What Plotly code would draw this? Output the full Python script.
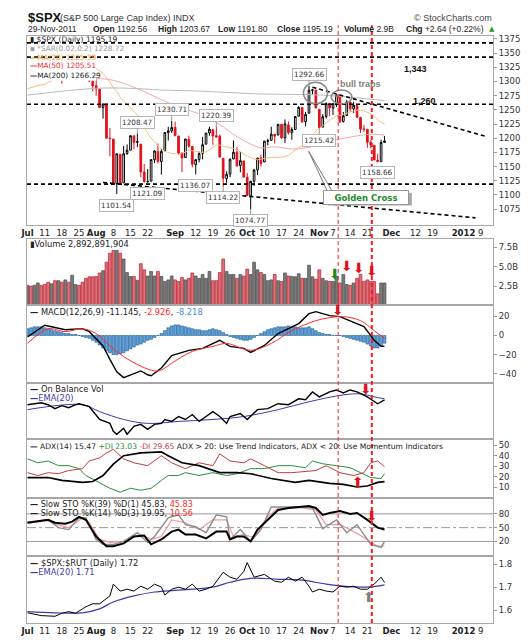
import pandas as pd
import plotly.graph_objects as go

FONT = "DejaVu Sans"
W, H = 529, 640
L, R, T, B = 14, 44, 28, 15          # plot area edges in page pixels
PW, PH = W - L - R, H - T - B


def fx(px):
    return (px - L) / PW


def fy(py):
    return (H - B - py) / PH


# trading sessions (weekends and exchange holidays dropped)
holidays = ["2011-07-04", "2011-09-05", "2011-11-24", "2011-12-26"]
sessions = pd.bdate_range("2011-07-01", "2012-01-31", freq="C", holidays=holidays)


def sess(d):
    return sessions.get_loc(pd.Timestamp(d))


tick_dates = ["2011-07-01", "2011-07-11", "2011-07-18", "2011-07-25", "2011-08-01", "2011-08-08",
              "2011-08-15", "2011-08-22", "2011-09-01", "2011-09-12", "2011-09-19", "2011-09-26",
              "2011-10-03", "2011-10-10", "2011-10-17", "2011-10-24", "2011-11-01", "2011-11-07",
              "2011-11-14", "2011-11-21", "2011-12-01", "2011-12-12", "2011-12-19", "2012-01-02",
              "2012-01-09"]
tick_text = ["<b>Jul</b>", "11", "18", "25", "<b>Aug</b>", "8", "15", "22", "<b>Sep</b>", "12", "19",
             "26", "<b>Oct</b>", "10", "17", "24", "<b>Nov</b>", "7", "14", "21", "<b>Dec</b>", "12",
             "19", "<b>2012</b>", "9"]
tick_pos = [sess(d) for d in tick_dates]

# ---- daily $SPX data, 1 Jul - 29 Nov 2011 ----
prev_close = 1320.64
opens = [1320.64, 1339.59, 1337.56, 1339.62, 1352.39, 1343.31, 1319.61, 1314.45, 1317.74, 1308.87,
         1315.94, 1307.07, 1328.66, 1325.65, 1343.80, 1344.32, 1337.39, 1331.91, 1304.84, 1300.12,
         1292.59, 1286.56, 1254.25, 1260.23, 1200.28, 1198.48, 1120.23, 1171.77, 1121.30, 1172.87,
         1178.86, 1204.22, 1192.89, 1189.62, 1140.47, 1123.55, 1124.36, 1162.16, 1176.69, 1158.85,
         1177.91, 1209.76, 1213.00,
         1219.12, 1203.90, 1173.97, 1165.85, 1197.98, 1185.37, 1153.50, 1162.59, 1173.32, 1189.44,
         1209.21, 1214.99, 1204.50, 1203.63, 1164.55, 1128.82, 1136.91, 1163.32, 1175.39, 1151.74,
         1159.93,
         1131.21, 1097.42, 1124.03, 1144.11, 1165.03, 1158.15, 1194.60, 1196.19, 1206.96, 1205.65,
         1224.47, 1200.75, 1223.46, 1209.92, 1215.39, 1238.72, 1254.19, 1229.17, 1243.97, 1284.39,
         1284.96,
         1251.00, 1219.62, 1238.25, 1260.82, 1253.21, 1261.12, 1275.18, 1229.59, 1240.12, 1263.85,
         1251.70, 1257.81, 1236.56, 1216.19, 1215.62, 1192.98, 1187.48, 1161.41, 1158.67, 1192.56]
highs = [1341.01, 1340.89, 1340.94, 1356.48, 1352.39, 1343.31, 1327.17, 1331.48, 1326.88, 1317.70,
         1315.94, 1328.14, 1330.43, 1347.00, 1346.10, 1344.32, 1338.51, 1331.91, 1316.32, 1304.16,
         1307.38, 1286.58, 1261.20, 1260.23, 1218.11, 1198.48, 1172.88, 1171.77, 1186.29, 1189.04,
         1204.49, 1204.22, 1208.47, 1189.62, 1154.54, 1145.49, 1162.35, 1178.56, 1190.68, 1181.23,
         1210.28, 1220.10, 1230.71,
         1229.29, 1203.90, 1173.97, 1198.62, 1204.40, 1185.37, 1162.52, 1176.41, 1202.38, 1209.11,
         1220.06, 1214.99, 1220.39, 1206.30, 1164.55, 1141.72, 1164.19, 1195.86, 1184.71, 1175.87,
         1159.93,
         1138.99, 1125.12, 1146.07, 1165.55, 1171.40, 1194.91, 1199.24, 1220.25, 1207.46, 1224.61,
         1224.47, 1233.10, 1229.64, 1219.36, 1239.03, 1256.55, 1254.19, 1246.28, 1292.66, 1287.08,
         1284.96,
         1251.00, 1242.48, 1263.21, 1260.82, 1261.70, 1277.55, 1275.18, 1246.22, 1266.98, 1263.85,
         1264.25, 1259.61, 1237.73, 1223.51, 1215.62, 1196.81, 1187.48, 1172.66, 1197.35, 1203.67]
lows = [1318.18, 1330.92, 1330.92, 1339.62, 1333.71, 1316.42, 1313.33, 1314.45, 1306.51, 1307.17,
        1295.92, 1307.07, 1323.65, 1325.65, 1336.95, 1331.09, 1329.59, 1303.49, 1299.16, 1282.86,
        1274.73, 1254.03, 1234.56, 1199.54, 1168.09, 1119.28, 1101.54, 1118.01, 1121.30, 1170.74,
        1178.86, 1180.53, 1184.36, 1131.03, 1122.05, 1121.09, 1124.36, 1156.30, 1155.47, 1135.91,
        1177.91, 1195.77, 1209.35,
        1203.85, 1170.56, 1140.13, 1165.85, 1183.34, 1148.37, 1136.07, 1157.44, 1162.73, 1189.44,
        1204.46, 1188.36, 1201.29, 1166.21, 1114.22, 1121.36, 1131.07, 1163.32, 1150.40, 1139.93,
        1131.34,
        1098.92, 1074.77, 1115.68, 1134.95, 1150.26, 1158.15, 1187.30, 1196.19, 1190.58, 1205.65,
        1198.55, 1191.48, 1206.31, 1197.34, 1215.39, 1238.72, 1226.79, 1221.06, 1243.97, 1277.01,
        1253.16,
        1215.42, 1219.62, 1234.81, 1238.92, 1240.75, 1254.99, 1226.64, 1227.70, 1240.12, 1246.68,
        1244.34, 1235.67, 1209.43, 1211.36, 1183.16, 1181.65, 1161.79, 1158.66, 1158.67, 1191.80]
closes = [1339.67, 1337.88, 1339.22, 1353.22, 1343.80, 1319.49, 1313.64, 1317.72, 1308.87, 1316.14,
          1305.44, 1326.73, 1325.84, 1343.80, 1345.02, 1337.43, 1331.94, 1304.89, 1300.67, 1292.28,
          1286.94, 1254.05, 1260.34, 1200.07, 1199.38, 1119.46, 1172.53, 1120.76, 1172.64, 1178.81,
          1204.49, 1192.76, 1193.89, 1140.65, 1123.53, 1123.82, 1162.35, 1177.60, 1159.27, 1176.80,
          1210.08, 1212.92, 1218.89,
          1204.42, 1173.97, 1165.24, 1198.62, 1185.90, 1154.23, 1162.27, 1172.87, 1188.68, 1209.11,
          1216.01, 1204.09, 1202.09, 1166.76, 1129.56, 1136.43, 1162.95, 1175.38, 1151.06, 1160.40,
          1131.42,
          1099.23, 1123.95, 1144.03, 1164.97, 1155.46, 1194.89, 1195.54, 1207.25, 1203.66, 1224.58,
          1200.86, 1225.38, 1209.88, 1215.39, 1238.25, 1254.19, 1229.05, 1242.00, 1284.59, 1285.09,
          1253.30,
          1218.28, 1237.90, 1261.15, 1253.23, 1261.12, 1275.92, 1229.10, 1239.69, 1263.85, 1251.78,
          1257.81, 1236.91, 1216.13, 1215.65, 1192.98, 1188.04, 1161.79, 1158.67, 1192.55, 1195.19]
volume_bn = [2.6, 2.5, 2.6, 2.9, 2.6, 2.7, 3.0, 2.8, 3.2, 3.2, 3.0, 3.3, 3.0,
             3.9, 2.7, 2.6, 3.0, 3.5, 3.7, 3.7, 3.75,
             4.2, 4.5, 5.6, 6.75, 7.1, 7.1, 6.75, 6.0,
             4.25, 3.75, 3.75, 3.25, 5.4, 4.6, 3.8, 4.4, 3.8, 4.4, 3.75, 3.1, 3.3, 3.8, 3.3, 3.1,
             3.6, 3.3, 3.5, 4.2, 3.8, 3.5,
             4.0, 3.5, 4.4, 3.2, 3.2, 4.25, 6.0,
             4.4, 4.0, 4.0, 3.5, 4.0, 3.8, 4.7, 4.0, 5.6, 4.6, 4.25, 4.0, 3.2, 3.3, 4.0, 3.2, 3.1,
             4.2, 3.8, 3.75, 3.7, 4.1, 3.5, 3.5, 5.2,
             3.7, 3.4, 4.6, 3.5, 3.2, 3.1, 3.1, 3.75, 2.9, 4.0, 2.7, 2.6, 2.9, 3.5, 4.0, 3.1, 3.3,
             3.1, 3.1, 1.5, 2.9, 2.9]
days = list(range(len(closes)))

# moving averages on price
ma20 = [1287, 1289, 1291, 1293, 1294, 1295, 1298, 1301, 1305, 1308, 1311, 1314, 1317, 1319, 1321,
        1323, 1324, 1325, 1325, 1324,
        1322.5, 1318.3, 1314.4, 1306.4, 1299.2, 1289.2, 1282.5, 1272.6, 1265.8, 1259.0,
        1254.0, 1247.3, 1240.7, 1230.5, 1219.4, 1208.7, 1200.2, 1193.8, 1186.7, 1180.9,
        1177.1, 1175.0, 1172.9, 1173.1, 1171.8, 1174.1, 1175.4, 1178.7, 1177.8, 1177.0,
        1175.4, 1175.2, 1176.0, 1179.7, 1183.8, 1187.7, 1187.9, 1185.5, 1184.4, 1183.7,
        1181.9, 1178.8, 1175.9, 1172.3, 1168.5, 1166.5, 1163.7, 1162.7, 1162.8, 1164.4,
        1165.5, 1166.5, 1166.2, 1166.6, 1166.5, 1167.6, 1169.8, 1174.1, 1179.2, 1183.8,
        1186.4, 1191.0, 1197.2, 1204.9, 1212.6, 1217.3, 1222.0, 1226.8, 1231.7, 1235.0,
        1239.0, 1240.1, 1241.9, 1243.9, 1246.4, 1248.0, 1249.4, 1249.4, 1248.3, 1245.2,
        1243.2, 1239.2, 1232.9, 1228.3, 1225.4]
ma50_day = [0, 10, 20, 25, 31, 39, 44, 50, 56, 61, 68, 72, 77, 82, 87, 94, 100, 104]
ma50_val = [1318, 1316, 1306, 1302, 1290, 1268, 1255, 1243, 1224, 1203, 1183, 1185, 1181, 1184,
            1193, 1202, 1207, 1205.5]
ma200_day = [0, 20, 30, 39, 50, 68, 86, 104]
ma200_val = [1276, 1288, 1288, 1285, 1283, 1278, 1276, 1266.3]

# MACD(12,26,9)
macd_day = [0, 5, 11, 16, 18, 22, 24, 26, 28, 31, 33, 35, 36, 39, 42, 47, 51, 56, 59, 63, 65, 69,
            73, 79, 82, 84, 88, 91, 94, 98, 101, 103, 104]
macd_val = [-1.4, 10.7, 6, 7.2, 4, -11, -25, -38, -44, -40, -37, -41, -42, -34, -21, -15.5, -13.5,
            -5, -11.4, -13.5, -17.6, -10.4, 2, 12.4, 22.8, 24.9, 20.7, 19.7, 15.5, 9.3, -5, -11.4,
            -11.1]
signal_day = [0, 6, 11, 16, 20, 24, 28, 33, 37, 39, 42, 48, 54, 58, 65, 71, 77, 84, 88, 92, 97,
              101, 104]
signal_val = [-8.3, 7, 4, 7, 2, -11, -22, -32, -37, -36, -29, -16.6, -11.4, -8.3, -15.5, -8.3, 5,
              15.5, 18.6, 19.7, 15.5, 5, -2.9]
macd_hist = [7, 8, 9, 9, 9, 8, 7, 6, 5,
             4, 3, 2, 2, 1, 1, 0,
             -1, -2, -3, -5, -7,
             -10, -13, -16, -18, -20, -20, -19, -18, -16, -14,
             -12, -10, -9, -7, -5, -4, -2, 0,
             2, 5, 8, 10, 11, 11, 10, 9, 8, 7,
             6, 6, 5, 5, 6, 7, 6,
             5, 3, 1, -1, -2, -3, -4, -5,
             -5, -4, -2, 0, 2, 4, 6,
             7, 8, 9, 9, 9, 10, 9, 9, 8, 8,
             8, 9, 7, 5, 3,
             2, 1, 1, 0, 0, 0, -1,
             -2, -3, -4, -5, -6, -7, -9, -11, -13, -13, -11, -8]

# On Balance Volume (no scale shown on the chart)
obv_day = [0, 4, 6, 8, 10, 12, 14, 15, 18, 21, 24, 25, 26, 28, 29, 31, 33, 35, 37, 39, 40, 42, 44,
           46, 48, 50, 52, 54, 56, 58, 59, 62, 64, 67, 70, 73, 76, 79, 81, 83, 85, 88, 90, 92, 94,
           96, 99, 102, 104]
obv_val = [35, 37, 35, 31, 34, 32, 35, 36, 33, 20, 16, 8, 5, 11, 5, 13, 15, 10, 15, 16, 20, 18, 23,
           20, 25, 18, 23, 28, 23, 16, 23, 26, 20, 30, 31, 36, 35, 41, 40, 48, 43, 48, 50, 47, 50,
           48, 43, 36, 40]
obv_ema_day = [0, 16, 21, 28, 35, 44, 54, 63, 73, 82, 92, 97, 101, 104]
obv_ema_val = [30, 35, 28, 20, 16, 18, 20, 23, 30, 38, 45, 46, 43, 41]

# ADX(14)
adx_day = [0, 6, 10, 16, 19, 22, 25, 28, 33, 37, 39, 41, 45, 50, 56, 61, 65, 71, 78, 82, 88, 92,
           96, 99, 102, 104]
adx_val = [19.4, 19.4, 16.7, 14.8, 15.7, 21.3, 32, 40, 42.6, 43.5, 43.5, 40, 33.3, 30.6, 24, 24,
           23, 18.5, 14.8, 16.7, 13.9, 13, 10.5, 11.4, 14.8, 15.47]
pdi_day = [0, 3, 6, 9, 12, 15, 17, 21, 24, 27, 30, 33, 36, 39, 41, 44, 46, 50, 54, 58, 61, 65, 69,
           73, 77, 81, 83, 86, 90, 94, 97, 100, 103, 104]
pdi_val = [37, 33.3, 35, 30.6, 30.6, 27.8, 21.3, 14.8, 9.3, 5.6, 9.3, 7.4, 9.3, 16.7, 21.3, 21.3,
           24, 21.3, 24, 21.3, 23, 27.8, 27.8, 30.6, 30.6, 28.7, 35, 32.4, 30.6, 28.7, 24, 19.4,
           18.5, 23.03]
mdi_day = [0, 3, 6, 9, 12, 16, 18, 21, 23, 25, 28, 31, 35, 39, 42, 46, 50, 54, 56, 59, 63, 65, 69,
           73, 77, 81, 84, 87, 91, 95, 98, 100, 102, 104]
mdi_val = [24, 21.3, 24, 23, 26, 27.8, 35, 38, 42.6, 46, 37, 33.3, 30.6, 40, 33.3, 27.8, 33.3,
           30.6, 41.7, 35, 33.3, 37, 30.6, 24, 24, 25, 26, 30.6, 24, 21.3, 24, 33.3, 35, 29.65]

# Slow stochastics
sto39_day = [0, 6, 8, 11, 13, 15, 17, 20, 23, 25, 28, 31, 34, 36, 39, 42, 44, 46, 49, 52, 55, 58,
             59, 61, 63, 65, 67, 70, 73, 76, 79, 82, 84, 86, 88, 91, 94, 96, 99, 102, 104]
sto39_val = [60.7, 67, 60.7, 58.5, 63, 73.5, 67, 30.7, 9.3, 9.3, 15.6, 30.7, 32.8, 13.6, 24.3,
             41.4, 45.7, 35, 35, 26.4, 41.4, 41.4, 24.3, 30.7, 30.7, 20, 45.7, 67, 88.6, 92.8, 95,
             97, 92.8, 77.8, 82, 86.4, 80, 82, 67, 50, 45.83]
sto14k_day = [0, 6, 9, 12, 15, 17, 20, 22, 25, 28, 32, 35, 37, 41, 44, 46, 49, 52, 55, 58, 59, 62,
              65, 68, 71, 75, 80, 83, 86, 90, 93, 96, 100, 103, 104]
sto14k_val = [62, 67, 50, 45.7, 71.4, 71.4, 24.3, 13.6, 13.6, 20, 39, 17.8, 30.7, 71.4, 77.8, 56.4,
              52, 39, 77.8, 73.5, 24.3, 45.7, 20, 45.7, 95, 95, 95, 92.8, 47.8, 67, 39, 56.4, 13.6,
              7.1, 19.95]
sto14d_day = [0, 6, 9, 12, 16, 18, 21, 24, 28, 33, 36, 39, 42, 46, 50, 54, 58, 60, 63, 66, 70, 73,
              80, 84, 87, 91, 94, 98, 102, 104]
sto14d_val = [60, 65, 56, 50, 71, 60.7, 24.3, 17.8, 20, 35, 24.3, 30.7, 67, 60.7, 45.7, 67, 67,
              30.7, 35, 28.5, 73.5, 92.8, 92.8, 88.6, 56.4, 56.4, 45.7, 28.5, 9.3, 10.56]

# $SPX:$RUT ratio
ratio_day = [0, 4, 8, 10, 12, 14, 16, 17, 19, 21, 24, 25, 27, 29, 31, 33, 35, 37, 39, 40, 42, 44,
             46, 48, 50, 52, 54, 57, 59, 61, 63, 64, 66, 69, 72, 74, 76, 78, 80, 82, 83, 85, 87,
             89, 91, 93, 95, 97, 99, 101, 103, 104]
ratio_val = [1.589, 1.577, 1.574, 1.587, 1.594, 1.587, 1.606, 1.615, 1.628, 1.628, 1.662, 1.713,
             1.683, 1.691, 1.683, 1.704, 1.691, 1.713, 1.700, 1.666, 1.691, 1.700, 1.691, 1.713,
             1.683, 1.691, 1.704, 1.764, 1.743, 1.734, 1.768, 1.806, 1.743, 1.755, 1.726, 1.721,
             1.743, 1.726, 1.743, 1.704, 1.679, 1.691, 1.683, 1.679, 1.704, 1.700, 1.704, 1.691,
             1.691, 1.713, 1.743, 1.720]
ratio_ema_day = [0, 8, 16, 21, 25, 31, 37, 44, 54, 59, 65, 73, 80, 87, 92, 98, 102, 104]
ratio_ema_val = [1.594, 1.589, 1.589, 1.606, 1.636, 1.662, 1.679, 1.687, 1.700, 1.721, 1.738,
                 1.734, 1.730, 1.713, 1.704, 1.700, 1.704, 1.710]

# chart notes
peak_days = [82, 42, 32, 55]
trough_days = [49, 57, 35, 26, 65, 85, 102]
hlines = [1368, 1343, 1260, 1119]
trend_days = [[22, 130.5], [83, 133.4]]
trend_prices = [[1122, 1059.6], [1290, 1203.4]]
event_days = [90.5, 100.3]

# ---------------------------------------------------------------
panels_px = [(28, 220), (234, 302), (302, 381), (381, 438), (438, 498), (498, 557), (557, 625)]
yranges = [[1047.4, 1380.2], [0, 8.65], [-49.7, 31.4], [0, 57], [0, 55.6], [-12.1, 114.3],
           [1.545, 1.834]]

fig = go.Figure()
RED = "#e0101c"

prevs = [prev_close] + closes[:-1]
up = [d for d in days if closes[d] >= prevs[d]]
dn = [d for d in days if closes[d] < prevs[d]]
for sel, col in ((up, "#000000"), (dn, RED)):
    fig.add_trace(go.Candlestick(
        x=sel, open=[opens[d] for d in sel], high=[highs[d] for d in sel],
        low=[lows[d] for d in sel], close=[closes[d] for d in sel],
        increasing=dict(line=dict(color=col, width=1), fillcolor="white"),
        decreasing=dict(line=dict(color=col, width=1), fillcolor=col),
        whiskerwidth=0, xaxis="x", yaxis="y", hoverinfo="skip"))

for xs, ys, col in ((days, ma20, "#f2bd82"), (ma50_day, ma50_val, "#f5a7a7"),
                    (ma200_day, ma200_val, "#b9b9b9")):
    fig.add_trace(go.Scatter(x=xs, y=ys, mode="lines", line=dict(color=col, width=1, shape="spline"),
                             xaxis="x", yaxis="y", hoverinfo="skip"))

vcol = ["#7a7a7a" if closes[d] >= prevs[d] else "#d5737b" for d in days]
vline = ["#4a4a4a" if closes[d] >= prevs[d] else "#c41a2a" for d in days]
fig.add_trace(go.Bar(x=days, y=volume_bn, width=0.82, marker=dict(color=vcol, line=dict(color=vline, width=0.7)),
                     xaxis="x2", yaxis="y2", hoverinfo="skip"))

fig.add_trace(go.Bar(x=days, y=macd_hist, width=0.8,
                     marker=dict(color="#62a3d9", line=dict(color="#1d5a96", width=0.6)),
                     xaxis="x3", yaxis="y3", hoverinfo="skip"))
fig.add_trace(go.Scatter(x=macd_day, y=macd_val, mode="lines", line=dict(color="black", width=1.4),
                         xaxis="x3", yaxis="y3", hoverinfo="skip"))
fig.add_trace(go.Scatter(x=signal_day, y=signal_val, mode="lines", line=dict(color="#ff2a2a", width=1, shape="spline"),
                         xaxis="x3", yaxis="y3", hoverinfo="skip"))

fig.add_trace(go.Scatter(x=obv_ema_day, y=obv_ema_val, mode="lines", line=dict(color="#3b3ba6", width=1, shape="spline"),
                         xaxis="x4", yaxis="y4", hoverinfo="skip"))
fig.add_trace(go.Scatter(x=obv_day, y=obv_val, mode="lines", line=dict(color="black", width=1.4),
                         xaxis="x4", yaxis="y4", hoverinfo="skip"))

for xs, ys, col, w in ((pdi_day, pdi_val, "#2e8b3e", 1), (mdi_day, mdi_val, "#c33a3c", 1),
                       (adx_day, adx_val, "black", 1.7)):
    fig.add_trace(go.Scatter(x=xs, y=ys, mode="lines", line=dict(color=col, width=w),
                             xaxis="x5", yaxis="y5", hoverinfo="skip"))

for xs, ys, col, w in ((sto14d_day, sto14d_val, "#f39a9a", 1.2), (sto14k_day, sto14k_val, "#8c8c8c", 1.4),
                       (sto39_day, sto39_val, "black", 2)):
    fig.add_trace(go.Scatter(x=xs, y=ys, mode="lines", line=dict(color=col, width=w),
                             xaxis="x6", yaxis="y6", hoverinfo="skip"))

fig.add_trace(go.Scatter(x=ratio_ema_day, y=ratio_ema_val, mode="lines", line=dict(color="#3b3ba6", width=1.2, shape="spline"),
                         xaxis="x7", yaxis="y7", hoverinfo="skip"))
fig.add_trace(go.Scatter(x=ratio_day, y=ratio_val, mode="lines", line=dict(color="black", width=1),
                         xaxis="x7", yaxis="y7", hoverinfo="skip"))

# ---- axes ----
ytick_sets = [
    dict(tickvals=list(range(1075, 1376, 25))),
    dict(tickvals=[2.5, 5, 7.5], ticktext=["2.5B", "5.0B", "7.5B"]),
    dict(tickvals=[-40, -20, 0, 20]),
    dict(tickvals=[]),
    dict(tickvals=[10, 20, 30, 40, 50]),
    dict(tickvals=[20, 50, 80]),
    dict(tickvals=[1.6, 1.7, 1.8], ticktext=["1.6", "1.7", "1.8"]),
]
layout = dict(width=W, height=H, margin=dict(l=L, r=R, t=T, b=B), paper_bgcolor="white",
              plot_bgcolor="white", showlegend=False, font=dict(family=FONT, size=9, color="#333"))
for k, ((top, bot), yr, ts) in enumerate(zip(panels_px, yranges, ytick_sets)):
    sfx = "" if k == 0 else str(k + 1)
    xa = dict(domain=[0, 1], anchor="y" + sfx, range=[-0.15, 135.6], showgrid=False, zeroline=False,
              showline=True, mirror=True, linecolor="#a8a8a8", linewidth=1,
              tickvals=tick_pos, ticktext=tick_text, ticks="", tickangle=0,
              tickfont=dict(size=8.5, color="#222"), showticklabels=(k in (0, 6)), fixedrange=True)
    if k:
        xa["matches"] = "x"
    else:
        xa["rangeslider"] = dict(visible=False)
    ya = dict(domain=[fy(bot), fy(top)], anchor="x" + sfx, range=yr, side="right", showgrid=False,
              zeroline=False, showline=True, mirror=True, linecolor="#a8a8a8", linewidth=1,
              ticks="outside", ticklen=3, tickcolor="#999", tickfont=dict(size=8.5, color="#333"),
              fixedrange=True, **ts)
    layout["xaxis" + sfx] = xa
    layout["yaxis" + sfx] = ya

# ---- shapes ----
shapes = []
# opaque legend box of the price panel
shapes.append(dict(type="rect", xref="paper", yref="paper", x0=fx(14), x1=fx(84), y0=fy(73.5), y1=fy(28.5),
                   fillcolor="white", line=dict(width=0), layer="above"))
for lv in hlines:
    shapes.append(dict(type="line", xref="x domain", yref="y", x0=0, x1=1, y0=lv, y1=lv,
                       line=dict(color="black", width=1.6, dash="4px,3px"), layer="above"))
for xs, ys in zip(trend_days, trend_prices):
    shapes.append(dict(type="line", xref="x", yref="y", x0=xs[0], x1=xs[1], y0=ys[0], y1=ys[1],
                       line=dict(color="black", width=1.6, dash="4px,3px"), layer="above"))
shapes.append(dict(type="circle", xref="x", yref="y", x0=80.4, x1=87.4, y0=1260.7, y1=1298.7,
                   line=dict(color="#888", width=1.5), layer="above"))
shapes.append(dict(type="circle", xref="x", yref="y", x0=88.5, x1=94.5, y0=1260.6, y1=1284.8,
                   line=dict(color="#888", width=1.5), layer="above"))
for x_end in (87.4, 88.8):
    shapes.append(dict(type="line", xref="x", yref="y", x0=81.9, x1=x_end, y0=1177, y1=1106,
                       line=dict(color="#777", width=1), layer="above"))
shapes.append(dict(type="rect", xref="paper", yref="paper", x0=fx(318), x1=fx(403), y0=fy(200.5), y1=fy(187.5),
                   fillcolor="#aaaaaa", line=dict(width=0), layer="above"))
for lv, dash in ((80, "solid"), (20, "solid"), (50, "dashdot")):
    shapes.append(dict(type="line", xref="x6 domain", yref="y6", x0=0, x1=1, y0=lv, y1=lv,
                       line=dict(color="#9a9a9a", width=1, dash=dash), layer="below"))
for ev, w in zip(event_days, (1, 2)):
    shapes.append(dict(type="line", xref="x", yref="paper", x0=ev, x1=ev, y0=0, y1=fy(17),
                       line=dict(color="#ff1a1a", width=w, dash="4px,3px"), layer="above"))
layout["shapes"] = shapes

# ---- annotations ----
ann = []


def note(text, xp, yp, size=8, color="#222", anchor="left", family=FONT, **kw):
    ann.append(dict(text=text, x=fx(xp), y=fy(yp), xref="paper", yref="paper", xanchor=anchor,
                    yanchor="middle", showarrow=False, font=dict(family=family, size=size, color=color), **kw))


AR = "Liberation Sans"
note("<b>$SPX</b>", 13, 9, size=13, color="#111", family=AR)
note("(S&P 500 Large Cap Index) INDX", 45, 10, size=9, color="#333", family=AR)
note("© StockCharts.com", 486, 10, size=9, color="#444", anchor="right", family=AR)
note("29-Nov-2011", 13, 20.5, size=8.5, color="#222", family=AR)
for txt, xp in (("<b>Open</b> 1192.56", 79), ("<b>High</b> 1203.67", 144), ("<b>Low</b> 1191.80", 205),
                ("<b>Close</b> 1195.19", 265), ("<b>Volume</b> 2.9B", 332), ("<b>Chg</b> +2.64 (+0.22%)", 395)):
    note(txt, xp, 20.5, size=8.5, color="#222", family=AR)
note("▲", 479, 20.5, size=7, color="#2a9a2a")

# price panel legend
note("▮ $SPX (Daily) 1195.19", 15, 31.5, size=7.6, color="#222")
note("<span style='color:#999'>▪ *SAR(0.02,0.2) 1228.72</span>", 15, 40.5, size=7.3)
note("<span style='color:#e59a3c'><b>—</b>MA(20) 1225.39</span>", 15, 49.5, size=7.3)
note("<span style='color:#ee2a2a'><b>—</b>MA(50) 1205.51</span>", 15, 58.5, size=7.3)
note("<b>—</b>MA(200) 1266.29", 15, 68, size=7.3, color="#222")

for d in peak_days + trough_days:
    hi = d in peak_days
    val = highs[d] if hi else lows[d]
    ann.append(dict(text=f"{val:.2f}", x=d, y=val, xref="x", yref="y", showarrow=True, arrowhead=0,
                    arrowwidth=1, arrowcolor="#999", ax=0, ay=-11 if hi else 11, bgcolor="white",
                    bordercolor="#b5b5b5", borderwidth=1, borderpad=1,
                    font=dict(family=FONT, size=7.3, color="#333")))

note("<b>1,343</b>", 393, 62, size=9, color="#111", family=AR)
note("<b>1,260</b>", 402, 94, size=9, color="#111", family=AR)
note("<b>bull traps</b>", 328, 77, size=9, color="#808080", family=AR)
note("<b>Golden Cross</b>", 357, 192.5, size=8.5, color="#1f8a2a", anchor="center",
     bgcolor="white", bordercolor="#999", borderwidth=1, width=82, height=11)

# panel legends
note("<b>▮</b>Volume 2,892,891,904", 15, 240, size=8.3)
note("<b>—</b> MACD(12,26,9) -11.145, <span style='color:#ff2a2a'>-2.926</span>, "
     "<span style='color:#3d8fd1'>-8.218</span>", 15, 309, size=8.3)
note("<b>—</b> On Balance Vol", 15, 387, size=8.3)
note("<span style='color:#3b3ba6'><b>—</b>EMA(20)</span>", 15, 396.5, size=8.3)
note("<b>—</b> ADX(14) 15.47 <span style='color:#2e8b3e'>+DI 23.03</span> "
     "<span style='color:#c33a3c'>-DI 29.65</span> ADX &gt; 20: Use Trend Indicators, "
     "ADX &lt; 20: Use Momentum Indicators", 15, 445, size=7.6)
note("<b>—</b> Slow STO %K(39) %D(1) 45.83, <span style='color:#ff2a2a'>45.83</span>", 15, 504, size=8.1)
note("<b>—</b> Slow STO %K(14) %D(3) 19.95, <span style='color:#ff2a2a'>10.56</span>", 15, 513, size=8.1)
note("<b>—</b> $SPX:$RUT (Daily) 1.72", 15, 564, size=8.3)
note("<span style='color:#3b3ba6'><b>—</b>EMA(20) 1.71</span>", 15, 573.5, size=8.3)

# signal arrows
arrows = [("⬇", 89.6, 4.0, "y2", "#1f8a1f"), ("⬇", 93.0, 5.1, "y2", RED), ("⬇", 96.7, 4.9, "y2", RED),
          ("⬇", 100.4, 4.5, "y2", RED), ("⬇", 90.5, 26.5, "y3", RED), ("⬇", 98.6, 51, "y4", RED),
          ("⬆", 96.3, 14.8, "y5", RED), ("⬇", 100.3, 76, "y6", RED), ("⬆", 99.4, 1.657, "y7", "#808080")]
for glyph, xd, yv, yax, col in arrows:
    ann.append(dict(text=glyph, x=xd, y=yv, xref="x", yref=yax, showarrow=False,
                    font=dict(family=FONT, size=14, color=col)))

layout["annotations"] = ann
fig.update_layout(layout)
fig.write_html("out.html")
